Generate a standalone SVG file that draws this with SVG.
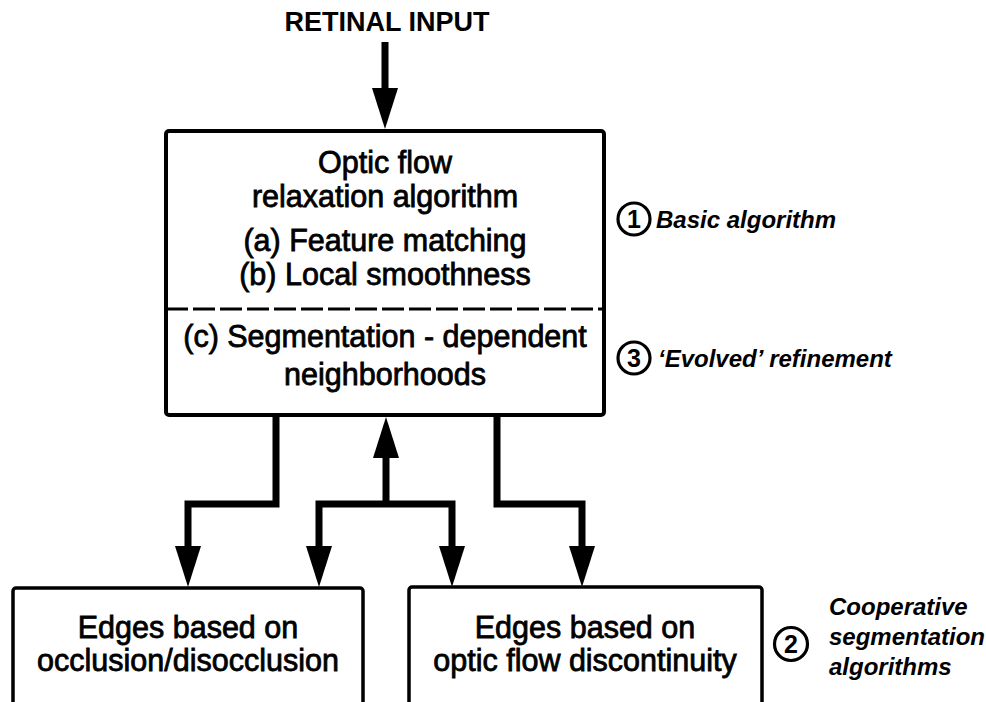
<svg xmlns="http://www.w3.org/2000/svg" width="986" height="702" viewBox="0 0 986 702">
<defs>
<style>
.box{fill:#fff;stroke:#000;stroke-width:4}
.sbox{fill:#fff;stroke:#000;stroke-width:3.5}
.t{font-family:"Liberation Sans",Arial,sans-serif;font-size:30.5px;fill:#000;stroke:#000;stroke-width:0.8;text-anchor:middle}
.note{font-family:"Liberation Sans",Arial,sans-serif;font-size:24px;font-weight:bold;font-style:italic;fill:#000}
.num{font-family:"Liberation Sans",Arial,sans-serif;font-size:25px;font-weight:bold;fill:#000;text-anchor:middle}
.circ{fill:none;stroke:#000;stroke-width:3.2}
.conn{fill:none;stroke:#000;stroke-width:7;stroke-linejoin:miter;stroke-linecap:butt}
</style>
<path id="down" d="M-13,-41 L13,-41 L0,0 z" fill="#000"/>
<path id="up" d="M-13,41 L13,41 L0,0 z" fill="#000"/>
</defs>
<rect width="986" height="702" fill="#fff"/>

<g id="retinal-input">
<text x="387" y="31" font-family="Liberation Sans, Arial, sans-serif" font-size="27" font-weight="bold" text-anchor="middle">RETINAL INPUT</text>
</g>

<g id="connectors">
<path class="conn" d="M385,42 V92"/>
<use href="#down" x="385" y="129"/>
<path class="conn" d="M276,415 V504 H188 V550"/>
<use href="#down" x="188" y="587"/>
<path class="conn" d="M319,550 V504 H452 V550"/>
<use href="#down" x="319" y="587"/>
<use href="#down" x="452" y="587"/>
<path class="conn" d="M386,507 V452"/>
<use href="#up" x="386" y="417"/>
<path class="conn" d="M497,415 V504 H582 V550"/>
<use href="#down" x="582" y="587"/>
</g>

<g id="optic-flow-box">
<rect class="box" x="166" y="131" width="438" height="284" rx="3"/>
<line x1="166" y1="309" x2="604" y2="309" stroke="#000" stroke-width="3" stroke-dasharray="22,5"/>
<text class="t" x="385" y="173">Optic flow</text>
<text class="t" x="385" y="207">relaxation algorithm</text>
<text class="t" x="385" y="251">(a) Feature matching</text>
<text class="t" x="385" y="285">(b) Local smoothness</text>
<text class="t" x="385" y="347">(c) Segmentation - dependent</text>
<text class="t" x="385" y="385">neighborhoods</text>
</g>

<g id="note-1">
<circle class="circ" cx="634" cy="219" r="16"/>
<text class="num" x="634" y="228">1</text>
<text class="note" x="656" y="228" font-size="25.5">Basic algorithm</text>
</g>

<g id="note-3">
<circle class="circ" cx="634" cy="358" r="16"/>
<text class="num" x="634" y="367">3</text>
<text class="note" x="658" y="367">‘Evolved’ refinement</text>
</g>

<g id="occlusion-box">
<rect class="sbox" x="13" y="588" width="350" height="130" rx="3"/>
<text class="t" x="188" y="638">Edges based on</text>
<text class="t" x="188" y="671">occlusion/disocclusion</text>
</g>

<g id="discontinuity-box">
<rect class="sbox" x="409" y="587" width="353" height="130" rx="3"/>
<text class="t" x="585" y="638">Edges based on</text>
<text class="t" x="585" y="671">optic flow discontinuity</text>
</g>

<g id="note-2">
<circle class="circ" cx="791" cy="644" r="16.5"/>
<text class="num" x="791" y="653">2</text>
<text class="note" x="829" y="615" font-size="21.5">Cooperative</text>
<text class="note" x="829" y="645" font-size="21.5">segmentation</text>
<text class="note" x="829" y="675" font-size="21.5">algorithms</text>
</g>
</svg>
